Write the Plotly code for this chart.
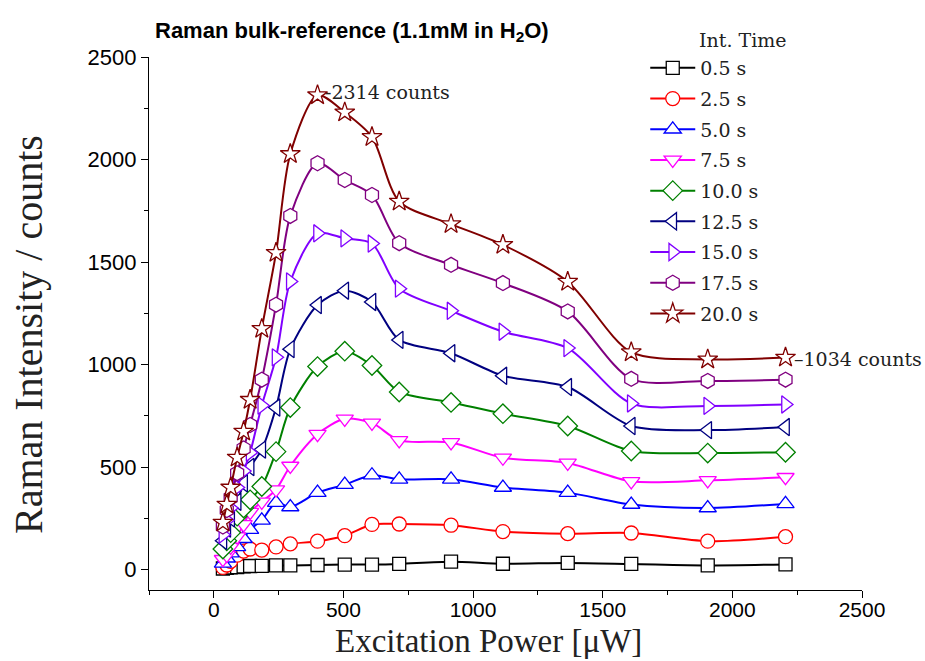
import plotly.graph_objects as go

power = [35, 50, 65, 90, 115, 140, 185, 240, 295, 400, 505, 610, 715, 915, 1115, 1365, 1610, 1905, 2205]

names = ["0.5 s", "2.5 s", "5.0 s", "7.5 s", "10.0 s", "12.5 s", "15.0 s", "17.5 s", "20.0 s"]

y_05 = [5, 8, 10, 12, 15, 17, 18, 20, 20, 22, 24, 24, 27, 38, 28, 32, 27, 20, 25]
y_25 = [10, 22, 40, 70, 90, 100, 95, 110, 125, 138, 165, 220, 222, 216, 185, 175, 178, 138, 160]
y_50 = [30, 55, 80, 110, 150, 195, 240, 326, 305, 375, 414, 460, 440, 440, 400, 375, 317, 300, 320]
y_75 = [50, 70, 110, 160, 220, 280, 330, 390, 505, 660, 735, 715, 630, 620, 545, 520, 430, 435, 450]
y_100 = [100, 140, 180, 260, 300, 340, 405, 575, 790, 990, 1065, 995, 866, 815, 760, 700, 578, 568, 572]
y_125 = [140, 200, 250, 330, 420, 500, 585, 790, 1075, 1290, 1360, 1305, 1120, 1055, 945, 890, 700, 680, 695]
y_150 = [170, 240, 300, 400, 480, 570, 800, 1035, 1405, 1640, 1615, 1590, 1370, 1262, 1160, 1080, 810, 798, 805]
y_175 = [210, 290, 350, 470, 590, 705, 926, 1292, 1725, 1982, 1900, 1827, 1592, 1486, 1397, 1259, 930, 920, 926]
y_200 = [229, 317, 400, 546, 673, 828, 1174, 1545, 2027, 2314, 2230, 2110, 1795, 1685, 1584, 1404, 1060, 1025, 1034]

series = [y_05, y_25, y_50, y_75, y_100, y_125, y_150, y_175, y_200]
colors = ["#000000", "#FF0000", "#0000FF", "#FF00FF", "#008000", "#000080", "#8000FF", "#800080", "#800000"]
symbols = ["square", "circle", "triangle-up", "triangle-down", "diamond", "triangle-left", "triangle-right", "hexagon", "star"]
sizes = [13, 14, 15, 15, 15, 15, 15, 15, 15]

fig = go.Figure()
for i, (nm, ys, c, s, sz) in enumerate(zip(names, series, colors, symbols, sizes)):
    fig.add_trace(go.Scatter(
        x=power, y=ys, name=nm, mode="lines+markers", legendgroup=f"g{i}",
        line=dict(color=c, width=2, shape="spline", smoothing=0.8),
        marker=dict(symbol=s, size=sz, color="white", line=dict(color=c, width=1.3)),
    ))

serif = "Liberation Serif, Times New Roman, serif"
wserif = "DejaVu Serif, serif"
sans = "Liberation Sans, Arial, sans-serif"

L, R, T, B = 149, 862, 57, 590
W, H = R - L, B - T

def px_x(p):
    return (p - L) / W

def px_y(p):
    return (B - p) / H

fig.add_annotation(x=400, y=2314, text="-2314 counts", showarrow=False, xanchor="left", yanchor="middle",
                   xshift=5, yshift=3, font=dict(family=wserif, size=19, color="#222"))
fig.add_annotation(x=2205, y=1034, text="–1034 counts", showarrow=False, xanchor="left", yanchor="middle",
                   xshift=6, yshift=-1, font=dict(family=wserif, size=19, color="#222"))
# legend heading
fig.add_annotation(xref="paper", yref="paper", x=px_x(697), y=px_y(40), text="Int. Time",
                   showarrow=False, xanchor="left", yanchor="middle", font=dict(family=wserif, size=19, color="#222"))
# axis titles
fig.add_annotation(xref="paper", yref="paper", x=px_x(488), y=px_y(641), text="Excitation Power [μW]",
                   showarrow=False, xanchor="center", yanchor="middle", font=dict(family=serif, size=33, color="#222"))
fig.add_annotation(xref="paper", yref="paper", x=px_x(28), y=px_y(335), text="Raman Intensity / counts",
                   textangle=-90, showarrow=False, xanchor="center", yanchor="middle",
                   font=dict(family=serif, size=40, color="#222"))

fig.update_layout(
    width=925, height=661,
    margin=dict(l=L, r=925 - R, t=T, b=661 - B),
    paper_bgcolor="white", plot_bgcolor="white",
    title=dict(text="Raman bulk-reference (1.1mM in H<sub>2</sub>O)", x=155/925, xanchor="left",
               y=1 - 30/661, yanchor="middle", font=dict(family=sans, size=22, color="black", weight="bold")),
    legend=dict(x=0.696, y=1.015, xanchor="left", yanchor="top", bgcolor="rgba(0,0,0,0)", itemwidth=45,
                tracegroupgap=3, font=dict(family=wserif, size=19, color="#222")),
    xaxis=dict(range=[-250, 2500], showgrid=False, zeroline=False, showline=True, linecolor="black", linewidth=1.3,
               ticks="outside", ticklen=7, tickwidth=1.3, tickcolor="black", dtick=500, tick0=0, automargin=False,
               tickfont=dict(family=sans, size=21, color="black"), ticklabelstandoff=-6,
               minor=dict(dtick=250, ticks="outside", ticklen=4, tickcolor="black", tickwidth=1.3)),
    yaxis=dict(range=[-100, 2500], showgrid=False, zeroline=False, showline=True, linecolor="black", linewidth=1.3,
               ticks="outside", ticklen=7, tickwidth=1.3, tickcolor="black", dtick=500, tick0=0, automargin=False,
               tickfont=dict(family=sans, size=22, color="black"),
               minor=dict(dtick=250, ticks="outside", ticklen=4, tickcolor="black", tickwidth=1.3)),
)

fig.write_html("out.html")
